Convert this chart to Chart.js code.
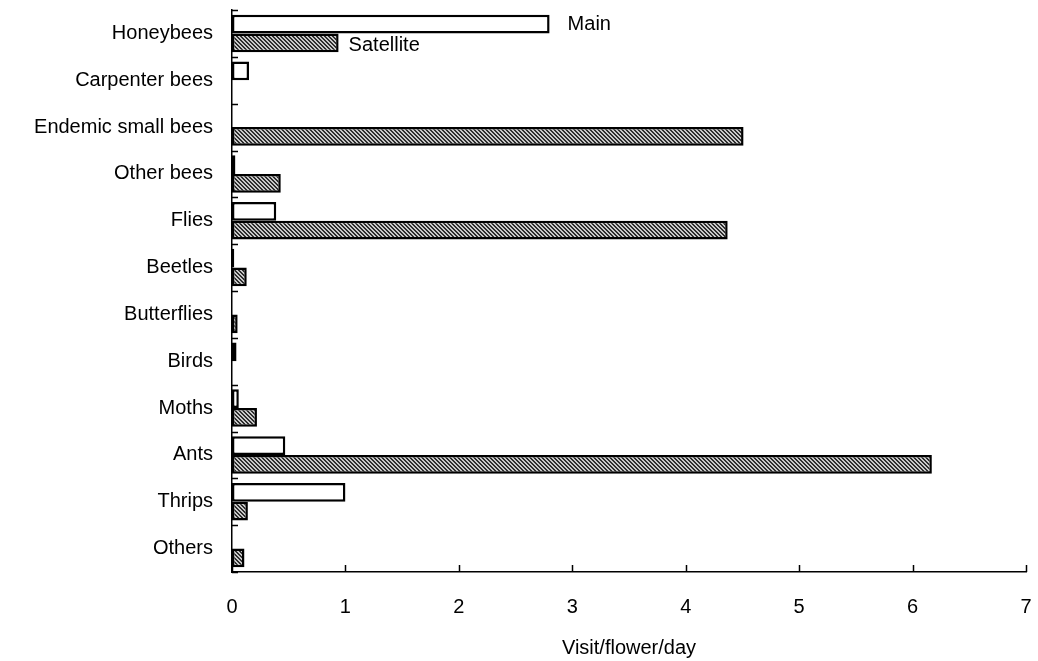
<!DOCTYPE html>
<html lang="en">
<head>
  <meta charset="UTF-8" />
  <title>Flower visitors</title>
  <script src="https://cdn.jsdelivr.net/npm/chart.js"></script>
  <style>
    html, body { margin: 0; padding: 0; background: #fff; }
    #wrap { width: 1038px; height: 661px; }
  </style>
</head>
<body>
  <div id="wrap"><canvas id="visitChart"></canvas></div>

  <script>
    const visitors = ["Honeybees", "Carpenter bees", "Endemic small bees", "Other bees", "Flies",
      "Beetles", "Butterflies", "Birds", "Moths", "Ants", "Thrips", "Others"];
    const mainVisits = [2.80, 0.15, 0, 0.03, 0.39, 0.02, 0, 0.04, 0.06, 0.47, 1.00, 0];
    const satelliteVisits = [0.94, 0, 4.51, 0.43, 4.37, 0.13, 0.05, 0, 0.22, 6.17, 0.14, 0.11];
    const xTicks = [0, 1, 2, 3, 4, 5, 6, 7];

    const FONT = "'Liberation Sans', Arial, sans-serif";

    // fine diagonal hatch for the satellite bars, built pixel by pixel
    function hatch() {
      const n = 4;
      const c = document.createElement("canvas");
      c.width = n; c.height = n;
      const g = c.getContext("2d");
      const img = g.createImageData(n, n);
      for (let y = 0; y < n; y++) {
        for (let x = 0; x < n; x++) {
          const dark = ((x - y + n) % n) < 2;
          const v = dark ? 45 : 200;
          const i = (y * n + x) * 4;
          img.data[i] = v; img.data[i + 1] = v; img.data[i + 2] = v; img.data[i + 3] = 255;
        }
      }
      g.putImageData(img, 0, 0);
      return g.createPattern(c, "repeat");
    }

    // inward tick marks on both axes
    const innerTicks = {
      id: "innerTicks",
      afterDraw(chart) {
        const ctx = chart.ctx;
        const xs = chart.scales.x;
        const area = chart.chartArea;
        ctx.save();
        ctx.strokeStyle = "#000";
        ctx.lineWidth = 1.5;
        ctx.beginPath();
        xTicks.forEach(v => {
          const px = Math.round(xs.getPixelForValue(v)) + 0.5;
          ctx.moveTo(px, area.bottom);
          ctx.lineTo(px, area.bottom - 7);
        });
        const band = (area.bottom - area.top) / visitors.length;
        for (let i = 0; i <= visitors.length; i++) {
          const py = Math.round(area.top + i * band) + 0.5;
          ctx.moveTo(area.left, py);
          ctx.lineTo(area.left + 6, py);
        }
        ctx.stroke();
        ctx.restore();
      }
    };

    // series names next to the first pair of bars
    const seriesNames = {
      id: "seriesNames",
      afterDatasetsDraw(chart) {
        const ctx = chart.ctx;
        const m = chart.getDatasetMeta(0).data[0];
        const s = chart.getDatasetMeta(1).data[0];
        ctx.save();
        ctx.fillStyle = "#000";
        ctx.font = "20px " + FONT;
        ctx.textBaseline = "middle";
        ctx.textAlign = "left";
        ctx.fillText("Main", m.x + 18, m.y);
        ctx.fillText("Satellite", s.x + 10, s.y + 3);
        ctx.restore();
      }
    };

    new Chart(document.getElementById("visitChart"), {
      type: "bar",
      data: {
        labels: visitors,
        datasets: [
          {
            label: "Main",
            data: mainVisits,
            backgroundColor: "#fff",
            borderColor: "#000",
            borderWidth: 2.5,
            borderSkipped: false
          },
          {
            label: "Satellite",
            data: satelliteVisits,
            backgroundColor: hatch(),
            borderColor: "#000",
            borderWidth: 2.5,
            borderSkipped: false
          }
        ]
      },
      options: {
        indexAxis: "y",
        responsive: true,
        maintainAspectRatio: false,
        animation: false,
        datasets: { bar: { categoryPercentage: 0.8, barPercentage: 1.0 } },
        layout: { padding: { top: 10, right: 12, left: 0, bottom: 0 } },
        plugins: {
          legend: { display: false },
          tooltip: { enabled: false }
        },
        scales: {
          x: {
            type: "linear",
            min: 0,
            max: 7,
            afterBuildTicks: (s) => { s.ticks = xTicks.map(v => ({ value: v })); },
            grid: { display: false, drawTicks: false },
            border: { display: true, color: "#000", width: 1.5 },
            ticks: { color: "#000", padding: 23, font: { family: FONT, size: 20 } },
            title: {
              display: true,
              text: "Visit/flower/day",
              color: "#000",
              font: { family: FONT, size: 20 },
              padding: { top: 0, bottom: 1 }
            },
            afterFit: (s) => {
              s.height = 89;
              s.paddingLeft = 0;
              s.paddingRight = 0;
            }
          },
          y: {
            grid: { display: false, drawTicks: false },
            border: { display: true, color: "#000", width: 1.5 },
            ticks: { color: "#000", padding: 19, font: { family: FONT, size: 20 } },
            afterFit: (s) => {
              s.width = 232;
              s.paddingTop = 0;
              s.paddingBottom = 0;
            }
          }
        }
      },
      plugins: [innerTicks, seriesNames]
    });
  </script>
</body>
</html>
